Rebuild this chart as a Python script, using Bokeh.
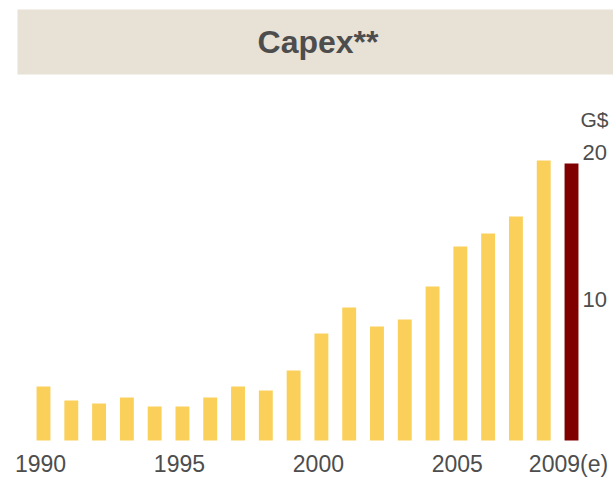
from bokeh.plotting import figure
from bokeh.models import Range1d, FixedTicker, LinearAxis, Label, BoxAnnotation
from bokeh.embed import file_html
from bokeh.resources import INLINE

# ---- data (G$) ----
years_actual = [1990, 1991, 1992, 1993, 1994, 1995, 1996, 1997, 1998, 1999,
                2000, 2001, 2002, 2003, 2004, 2005, 2006, 2007, 2008]
capex_actual = [3.67, 2.72, 2.52, 2.93, 2.31, 2.31, 2.93, 3.67, 3.40, 4.76,
                7.28, 9.05, 7.76, 8.23, 10.48, 13.2, 14.08, 15.24, 19.05]
years_estimate = [2009]
capex_estimate = [18.84]
x_ticks = [1990, 1995, 2000, 2005, 2009]
x_tick_labels = ["1990", "1995", "2000", "2005", "2009(e)"]
y_ticks = [10, 20]
title_text = "Capex**"
unit_text = "G$"

FONT = "Liberation Sans"
TEXT_COLOR = "#4D4D4D"

X0, X1 = 1988.4527, 2010.511
Y0, Y1 = -2.517, 29.93

p = figure(width=613, height=477, output_backend="svg", toolbar_location=None,
           x_range=Range1d(X0, X1), y_range=Range1d(Y0, Y1),
           x_axis_location=None, y_axis_location=None,
           min_border_left=0, min_border_right=0, min_border_top=0, min_border_bottom=0,
           background_fill_color="white", border_fill_color="white",
           outline_line_color=None)
p.grid.visible = False

# ranges used only for tick-label placement (labels sit slightly off the bar grid)
p.extra_x_ranges["xlab"] = Range1d(X0 + 0.108, X1 + 0.108)
p.extra_y_ranges["ylab"] = Range1d(Y0 + 0.41, Y1 + 0.41)

# title band
p.add_layout(BoxAnnotation(left=17, right=613, top=9, bottom=74,
                           left_units="canvas", right_units="canvas",
                           top_units="canvas", bottom_units="canvas",
                           fill_color="#E8E2D6", fill_alpha=1.0, line_color=None,
                           level="underlay"))
p.add_layout(Label(x=317.5, y=41.5, x_units="canvas", y_units="canvas",
                   text=title_text, text_align="center", text_baseline="middle",
                   text_font=FONT, text_font_size="32px", text_font_style="bold",
                   text_color=TEXT_COLOR))

# bars
p.vbar(x=years_actual, top=capex_actual, width=0.5, bottom=0,
       fill_color="#FAD05A", line_color=None)
p.vbar(x=years_estimate, top=capex_estimate, width=0.5, bottom=0,
       fill_color="#800000", line_color=None)

xa = LinearAxis(x_range_name="xlab", ticker=FixedTicker(ticks=x_ticks),
                fixed_location=0,
                major_label_overrides={t: l for t, l in zip(x_ticks, x_tick_labels)},
                axis_line_color=None, major_tick_line_color=None,
                minor_tick_line_color=None, major_tick_out=0,
                major_label_standoff=11,
                major_label_text_font=FONT, major_label_text_font_size="23px",
                major_label_text_color=TEXT_COLOR)
p.add_layout(xa, "below")

ya = LinearAxis(y_range_name="ylab", ticker=FixedTicker(ticks=y_ticks),
                fixed_location=2009.3236,
                axis_line_color=None, major_tick_line_color=None,
                minor_tick_line_color=None, major_tick_out=0,
                major_label_standoff=2,
                major_label_text_font=FONT, major_label_text_font_size="22px",
                major_label_text_color=TEXT_COLOR)
p.add_layout(ya, "right")

p.add_layout(Label(x=580, y=107, x_units="canvas", y_units="canvas", text=unit_text,
                   text_align="left", text_baseline="top", text_font=FONT,
                   text_font_size="21px", text_color=TEXT_COLOR))

open("out.html", "w").write(file_html(p, INLINE))
